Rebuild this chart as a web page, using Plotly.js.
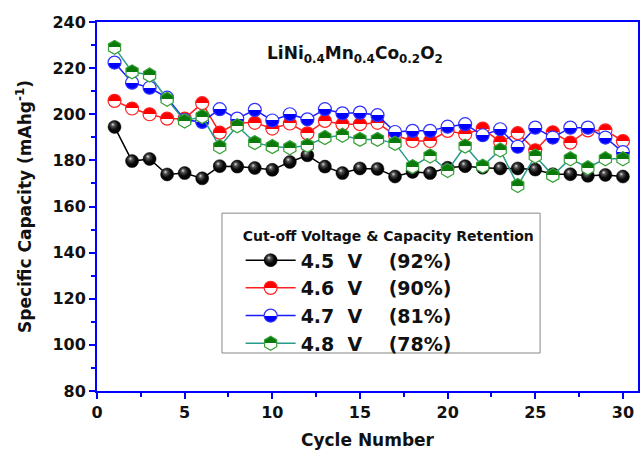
<!DOCTYPE html>
<html>
<head>
<meta charset="utf-8">
<script src="https://cdn.plot.ly/plotly-3.0.1.min.js"></script>
<style>body{margin:0;background:#fff}#chart{width:641px;height:450px}</style>
</head>
<body>
<div id="chart"></div>
<script>
const cycles = [1,2,3,4,5,6,7,8,9,10,11,12,13,14,15,16,17,18,19,20,21,22,23,24,25,26,27,28,29,30];
const v45 = [194.5,179.7,180.6,173.9,174.5,172.2,177.5,177.3,176.7,175.9,179.3,182.2,177.3,174.5,176.5,176.3,173.0,175.0,174.5,176.8,177.5,176.8,176.5,176.5,176.0,174.0,174.0,173.3,173.7,173.0];
const v46 = [205.8,202.5,200.0,198.1,198.1,204.8,192.0,196.3,196.3,193.8,196.0,191.7,197.1,195.7,195.7,196.3,190.9,188.4,188.4,192.8,191.3,193.8,188.0,191.8,184.4,192.2,187.7,193.0,193.0,188.4];
const v47 = [222.4,213.7,211.5,207.2,197.5,196.7,202.2,198.1,201.9,197.3,200.0,197.8,202.2,200.4,200.7,199.6,192.3,192.8,192.8,194.6,195.7,190.9,193.5,185.9,194.2,189.9,194.2,194.2,189.9,183.6];
const v48 = [229.0,218.4,217.0,206.5,197.1,199.0,185.9,195.0,187.7,186.0,185.5,186.5,189.9,190.9,189.1,189.1,187.4,177.3,181.9,175.6,186.2,177.5,184.5,169.1,181.9,173.5,180.7,176.8,180.7,180.7];
const seriesNames = ['4.5\u00a0\u00a0V\u00a0\u00a0\u00a0\u00a0(92%)','4.6\u00a0\u00a0V\u00a0\u00a0\u00a0\u00a0(90%)','4.7\u00a0\u00a0V\u00a0\u00a0\u00a0\u00a0(81%)','4.8\u00a0\u00a0V\u00a0\u00a0\u00a0\u00a0(78%)'];
const xTicks = [0,5,10,15,20,25,30];
const yTicks = [80,100,120,140,160,180,200,220,240];

const FONT = '"DejaVu Sans", Arial, sans-serif';
const traces = [
  {x: cycles, y: v45, name: seriesNames[0], mode: 'lines+markers',
   line: {color: '#000000', width: 1.5},
   marker: {symbol: 'circle', size: 13, color: '#000000', line: {color: '#000000', width: 0.5},
            gradient: {type: 'radial', color: '#c8c8c8'}}},
  {x: cycles, y: v46, name: seriesNames[1], mode: 'lines+markers',
   line: {color: '#ff2020', width: 1.5},
   marker: {symbol: 'circle', size: 13, color: '#ff0000', line: {color: '#ff2020', width: 1.2},
            gradient: {type: 'vertical', color: '#ffffff'}}},
  {x: cycles, y: v47, name: seriesNames[2], mode: 'lines+markers',
   line: {color: '#1a1aff', width: 1.5},
   marker: {symbol: 'circle', size: 13, color: '#ffffff', line: {color: '#3030ff', width: 1.2},
            gradient: {type: 'vertical', color: '#0000ff'}}},
  {x: cycles, y: v48, name: seriesNames[3], mode: 'lines+markers',
   line: {color: '#2a9a8a', width: 1.5},
   marker: {symbol: 'hexagon', size: 14, color: '#0a7a0a', line: {color: '#33a033', width: 1.2},
            gradient: {type: 'vertical', color: '#ffffff'}}}
];

const axisCommon = {
  showline: true, linecolor: '#0000ff', linewidth: 2, mirror: true,
  ticks: 'outside', tickcolor: '#0000ff', tickwidth: 2, ticklen: 6,
  showgrid: false, zeroline: false,
  tickfont: {family: FONT, size: 16, color: '#111', weight: 'bold'}
};

const layout = {
  width: 641, height: 450,
  margin: {l: 97, r: 3, t: 22, b: 59},
  paper_bgcolor: '#ffffff', plot_bgcolor: '#ffffff',
  showlegend: true,
  xaxis: Object.assign({}, axisCommon, {
    range: [0, 30.86], tickvals: xTicks,
    minor: {ticks: 'outside', dtick: 2.5, ticklen: 4, tickcolor: '#0000ff', tickwidth: 2},
    title: {text: 'Cycle Number', standoff: 14, font: {family: FONT, size: 17, color: '#111', weight: 'bold'}}
  }),
  yaxis: Object.assign({}, axisCommon, {
    range: [80, 240], tickvals: yTicks,
    minor: {ticks: 'outside', dtick: 10, ticklen: 4, tickcolor: '#0000ff', tickwidth: 2},
    title: {text: 'Specific Capacity (mAhg<sup>-1</sup>)', standoff: 16, font: {family: FONT, size: 17, color: '#111', weight: 'bold'}}
  }),
  legend: {
    x: 0.2655, y: 0.455, xanchor: 'left', yanchor: 'top',
    bgcolor: 'rgba(0,0,0,0)', borderwidth: 0, itemwidth: 50,
    font: {family: FONT, size: 19, color: '#111', weight: 'bold'},
    title: {text: 'Cut-off Voltage & Capacity Retention', font: {family: FONT, size: 14, color: '#111', weight: 'bold'}},
    tracegroupgap: 0
  },
  shapes: [{type: 'rect', xref: 'paper', yref: 'paper', x0: 0.231, x1: 0.819, y0: 0.103, y1: 0.482,
            line: {color: '#888888', width: 1}, fillcolor: '#ffffff', layer: 'below'}],
  annotations: [{
    xref: 'paper', yref: 'paper', x: 0.476, y: 0.912, xanchor: 'center', yanchor: 'middle', showarrow: false,
    text: 'LiNi<sub>0.4</sub>Mn<sub>0.4</sub>Co<sub>0.2</sub>O<sub>2</sub>',
    font: {family: FONT, size: 17, color: '#111', weight: 'bold'}
  }]
};

function mkStop(g, off, col, op) {
  const st = document.createElementNS('http://www.w3.org/2000/svg', 'stop');
  st.setAttribute('offset', off);
  st.setAttribute('stop-color', col);
  st.setAttribute('stop-opacity', op);
  g.appendChild(st);
}

Plotly.newPlot('chart', traces, layout, {displayModeBar: false, staticPlot: true}).then(function(gd) {
  // vertical gradients -> sharp half/half split (half-filled markers)
  document.querySelectorAll('#chart linearGradient').forEach(function(g) {
    const stops = g.querySelectorAll('stop');
    if (stops.length < 2) return;
    const a = stops[0], b = stops[stops.length - 1];
    const ca = a.getAttribute('stop-color'), cb = b.getAttribute('stop-color');
    const oa = a.getAttribute('stop-opacity') || 1, ob = b.getAttribute('stop-opacity') || 1;
    while (g.firstChild) g.removeChild(g.firstChild);
    mkStop(g, '0%', ca, oa); mkStop(g, '50%', ca, oa);
    mkStop(g, '50%', cb, ob); mkStop(g, '100%', cb, ob);
  });
  // radial gradient -> glossy black sphere
  document.querySelectorAll('#chart radialGradient').forEach(function(g) {
    g.setAttribute('fx', '0.36'); g.setAttribute('fy', '0.3');
    g.setAttribute('cx', '0.45'); g.setAttribute('cy', '0.42');
    g.setAttribute('r', '0.6');
    while (g.firstChild) g.removeChild(g.firstChild);
    mkStop(g, '0%', '#e0e0e0', 1);
    mkStop(g, '25%', '#505050', 1);
    mkStop(g, '60%', '#0a0a0a', 1);
    mkStop(g, '100%', '#000000', 1);
  });
});
</script>
</body>
</html>
